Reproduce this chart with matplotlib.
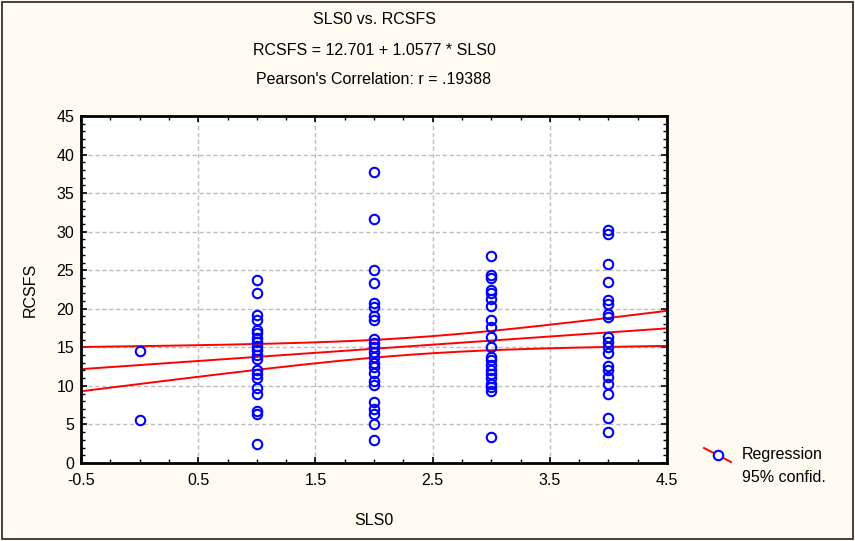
import numpy as np
import matplotlib
matplotlib.use("Agg")
import matplotlib.pyplot as plt
from matplotlib.ticker import MultipleLocator
from matplotlib.patches import Rectangle
from matplotlib.lines import Line2D

plt.rcParams['font.family'] = ['Liberation Sans', 'DejaVu Sans']

# Observations grouped by SLS0 level
sls0_levels = [0, 1, 2, 3, 4]
rcsfs_at_0 = [14.5, 5.6]
rcsfs_at_1 = [23.7, 22.1, 19.2, 18.6, 17.3, 16.9, 16.2, 15.7, 15.2, 14.6, 14.0,
              13.5, 12.0, 11.5, 11.0, 9.7, 9.0, 6.8, 6.3, 2.5]
rcsfs_at_2 = [37.8, 31.7, 25.0, 23.3, 20.7, 20.2, 19.1, 18.6, 16.1, 15.6, 15.0,
              14.4, 13.7, 13.0, 12.4, 11.7, 10.6, 10.1, 7.9, 7.0, 6.3, 5.1, 3.0]
rcsfs_at_3 = [26.8, 24.4, 24.0, 22.5, 22.0, 21.3, 20.3, 18.6, 17.6, 16.3, 15.1,
              13.8, 13.3, 12.7, 12.0, 11.5, 11.0, 10.3, 9.8, 9.4, 3.4]
rcsfs_at_4 = [30.2, 29.7, 25.8, 23.5, 21.1, 20.6, 19.3, 18.9, 16.3, 15.7, 15.0,
              14.3, 12.6, 12.1, 11.2, 10.2, 9.0, 5.9, 4.0]
rcsfs_groups = [rcsfs_at_0, rcsfs_at_1, rcsfs_at_2, rcsfs_at_3, rcsfs_at_4]

# Fitted regression and summary statistics for the 95% confidence band
intercept = 12.701
slope = 1.0577
pearson_r = ".19388"
n_obs = 131
x_mean = 2.36
x_var = 1.41
resid_sd = 6.37
t_crit = 1.98

x_ticks = [-0.5, 0.5, 1.5, 2.5, 3.5, 4.5]
y_ticks = [0, 5, 10, 15, 20, 25, 30, 35, 40, 45]

W, H = 855, 541
fig = plt.figure(figsize=(W / 100, H / 100), dpi=100)
fig.patch.set_facecolor('#FFFBF0')
fig.patches.append(Rectangle((2 / W, 2 / H), (W - 4) / W, (H - 4) / H,
                             transform=fig.transFigure, fill=False,
                             edgecolor='#222222', linewidth=1.2))

ax = fig.add_axes([81 / W, 1 - 463 / H, (667 - 81) / W, (463 - 116) / H])
ax.set_facecolor('white')

MS = 6.8
# scatter
xs = np.concatenate([[lvl] * len(g) for lvl, g in zip(sls0_levels, rcsfs_groups)])
ys = np.concatenate(rcsfs_groups)
ax.plot(xs, ys, linestyle='none', marker='o', markersize=MS,
        markerfacecolor='none', markeredgecolor='#0000FF', markeredgewidth=1.5,
        zorder=3)

# regression line and confidence band
xg = np.linspace(-0.5, 4.5, 200)
yfit = intercept + slope * xg
sxx = n_obs * x_var
half = t_crit * resid_sd * np.sqrt(1.0 / n_obs + (xg - x_mean) ** 2 / sxx)
for yy in (yfit, yfit + half, yfit - half):
    ax.plot(xg, yy, color='#FF0000', linewidth=1.4, zorder=2)

ax.set_xlim(-0.5, 4.5)
ax.set_ylim(0, 45)
ax.set_xticks(x_ticks)
ax.set_xticklabels([f"{v:g}" for v in x_ticks])
ax.set_yticks(y_ticks)
ax.set_yticklabels([f"{v:g}" for v in y_ticks])
ax.xaxis.set_minor_locator(MultipleLocator(0.25))
ax.yaxis.set_minor_locator(MultipleLocator(1))
ax.tick_params(which='both', direction='in', top=True, right=True,
               color='black', labelsize=11.5)
ax.tick_params(which='major', length=4, width=1.2)
ax.tick_params(which='minor', length=3, width=1.0)
ax.tick_params(axis='x', pad=7)
ax.tick_params(axis='y', pad=5)
for s in ax.spines.values():
    s.set_linewidth(2.0)
ax.grid(True, which='major', linestyle=(0, (3, 2)), color='#BDBDBD', linewidth=1.0)
ax.set_axisbelow(True)

ax.set_xlabel('SLS0', fontsize=11.5, labelpad=18)
ax.set_ylabel('RCSFS', fontsize=11.5, labelpad=13)

# title block
cx = (81 + 667) / 2 / W
fig.text(cx, 1 - 20 / H, 'SLS0 vs. RCSFS', ha='center', va='center', fontsize=11.5)
fig.text(cx, 1 - 50 / H, f'RCSFS = {intercept:.3f} + {slope:.4f} * SLS0',
         ha='center', va='center', fontsize=11.5)
fig.text(cx, 1 - 80 / H, f"Pearson's Correlation: r = {pearson_r}",
         ha='center', va='center', fontsize=11.5)

# legend key
key_line = Line2D([704 / W, 731 / W], [1 - 448 / H, 1 - 462 / H],
                  transform=fig.transFigure, color='#FF0000', linewidth=1.4,
                  zorder=5)
key_mark = Line2D([717.5 / W], [1 - 455 / H], transform=fig.transFigure,
                  linestyle='none', marker='o', markersize=MS,
                  markerfacecolor='white', markeredgecolor='#0000FF',
                  markeredgewidth=1.5, zorder=6)
fig.add_artist(key_line)
fig.add_artist(key_mark)
fig.text(742 / W, 1 - 455 / H, 'Regression', ha='left', va='center', fontsize=11.5)
fig.text(742 / W, 1 - 477 / H, '95% confid.', ha='left', va='center', fontsize=11.5)

fig.savefig('out.png', dpi=100, facecolor=fig.get_facecolor())
